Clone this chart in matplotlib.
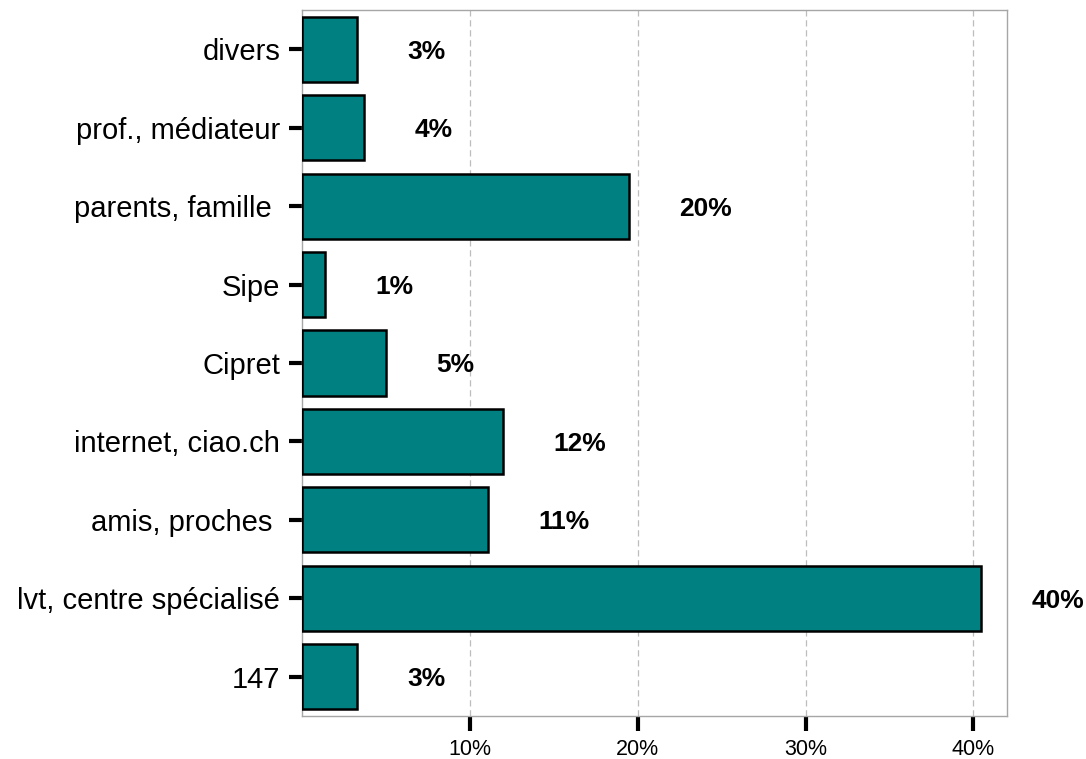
import matplotlib
matplotlib.use('Agg')
import matplotlib.pyplot as plt

plt.rcParams['font.family'] = ['Liberation Sans', 'DejaVu Sans']

categories = ['147', 'lvt, centre spécialisé', 'amis, proches ', 'internet, ciao.ch',
              'Cipret', 'Sipe', 'parents, famille ', 'prof., médiateur', 'divers']
values = [3.29, 40.45, 11.1, 12.0, 5.02, 1.40, 19.5, 3.73, 3.29]
xticks = [10, 20, 30, 40]

fig = plt.figure(figsize=(10.86, 7.59), dpi=100)
ax = fig.add_axes([0.2778, 0.0567, 0.6495, 0.9301])

ypos = list(range(len(categories)))
ax.barh(ypos, values, height=0.83, color='#008080', edgecolor='black', linewidth=1.8, zorder=3)

for y, v in zip(ypos, values):
    ax.text(v + 3.0, y, f'{round(v)}%', ha='left', va='center_baseline',
            fontsize=19, fontweight='bold', color='black', zorder=4)

ax.set_xlim(0, 42)
ax.set_ylim(-0.5, 8.5)
ax.set_yticks(ypos)
ax.set_yticklabels(categories, fontsize=21)
ax.set_xticks(xticks)
ax.set_xticklabels([f'{t}%' for t in xticks], fontsize=15.5)

ax.tick_params(axis='y', length=9.5, width=3, pad=6, color='black')
ax.tick_params(axis='x', length=10.5, width=3, pad=6, color='black')

for s in ax.spines.values():
    s.set_color('#a6a6a6')
    s.set_linewidth(1.0)

ax.grid(axis='x', color='#bdbdbd', linestyle=(0, (5, 3)), linewidth=0.9, zorder=0)
ax.set_axisbelow(True)

fig.savefig('out.png', dpi=100)
